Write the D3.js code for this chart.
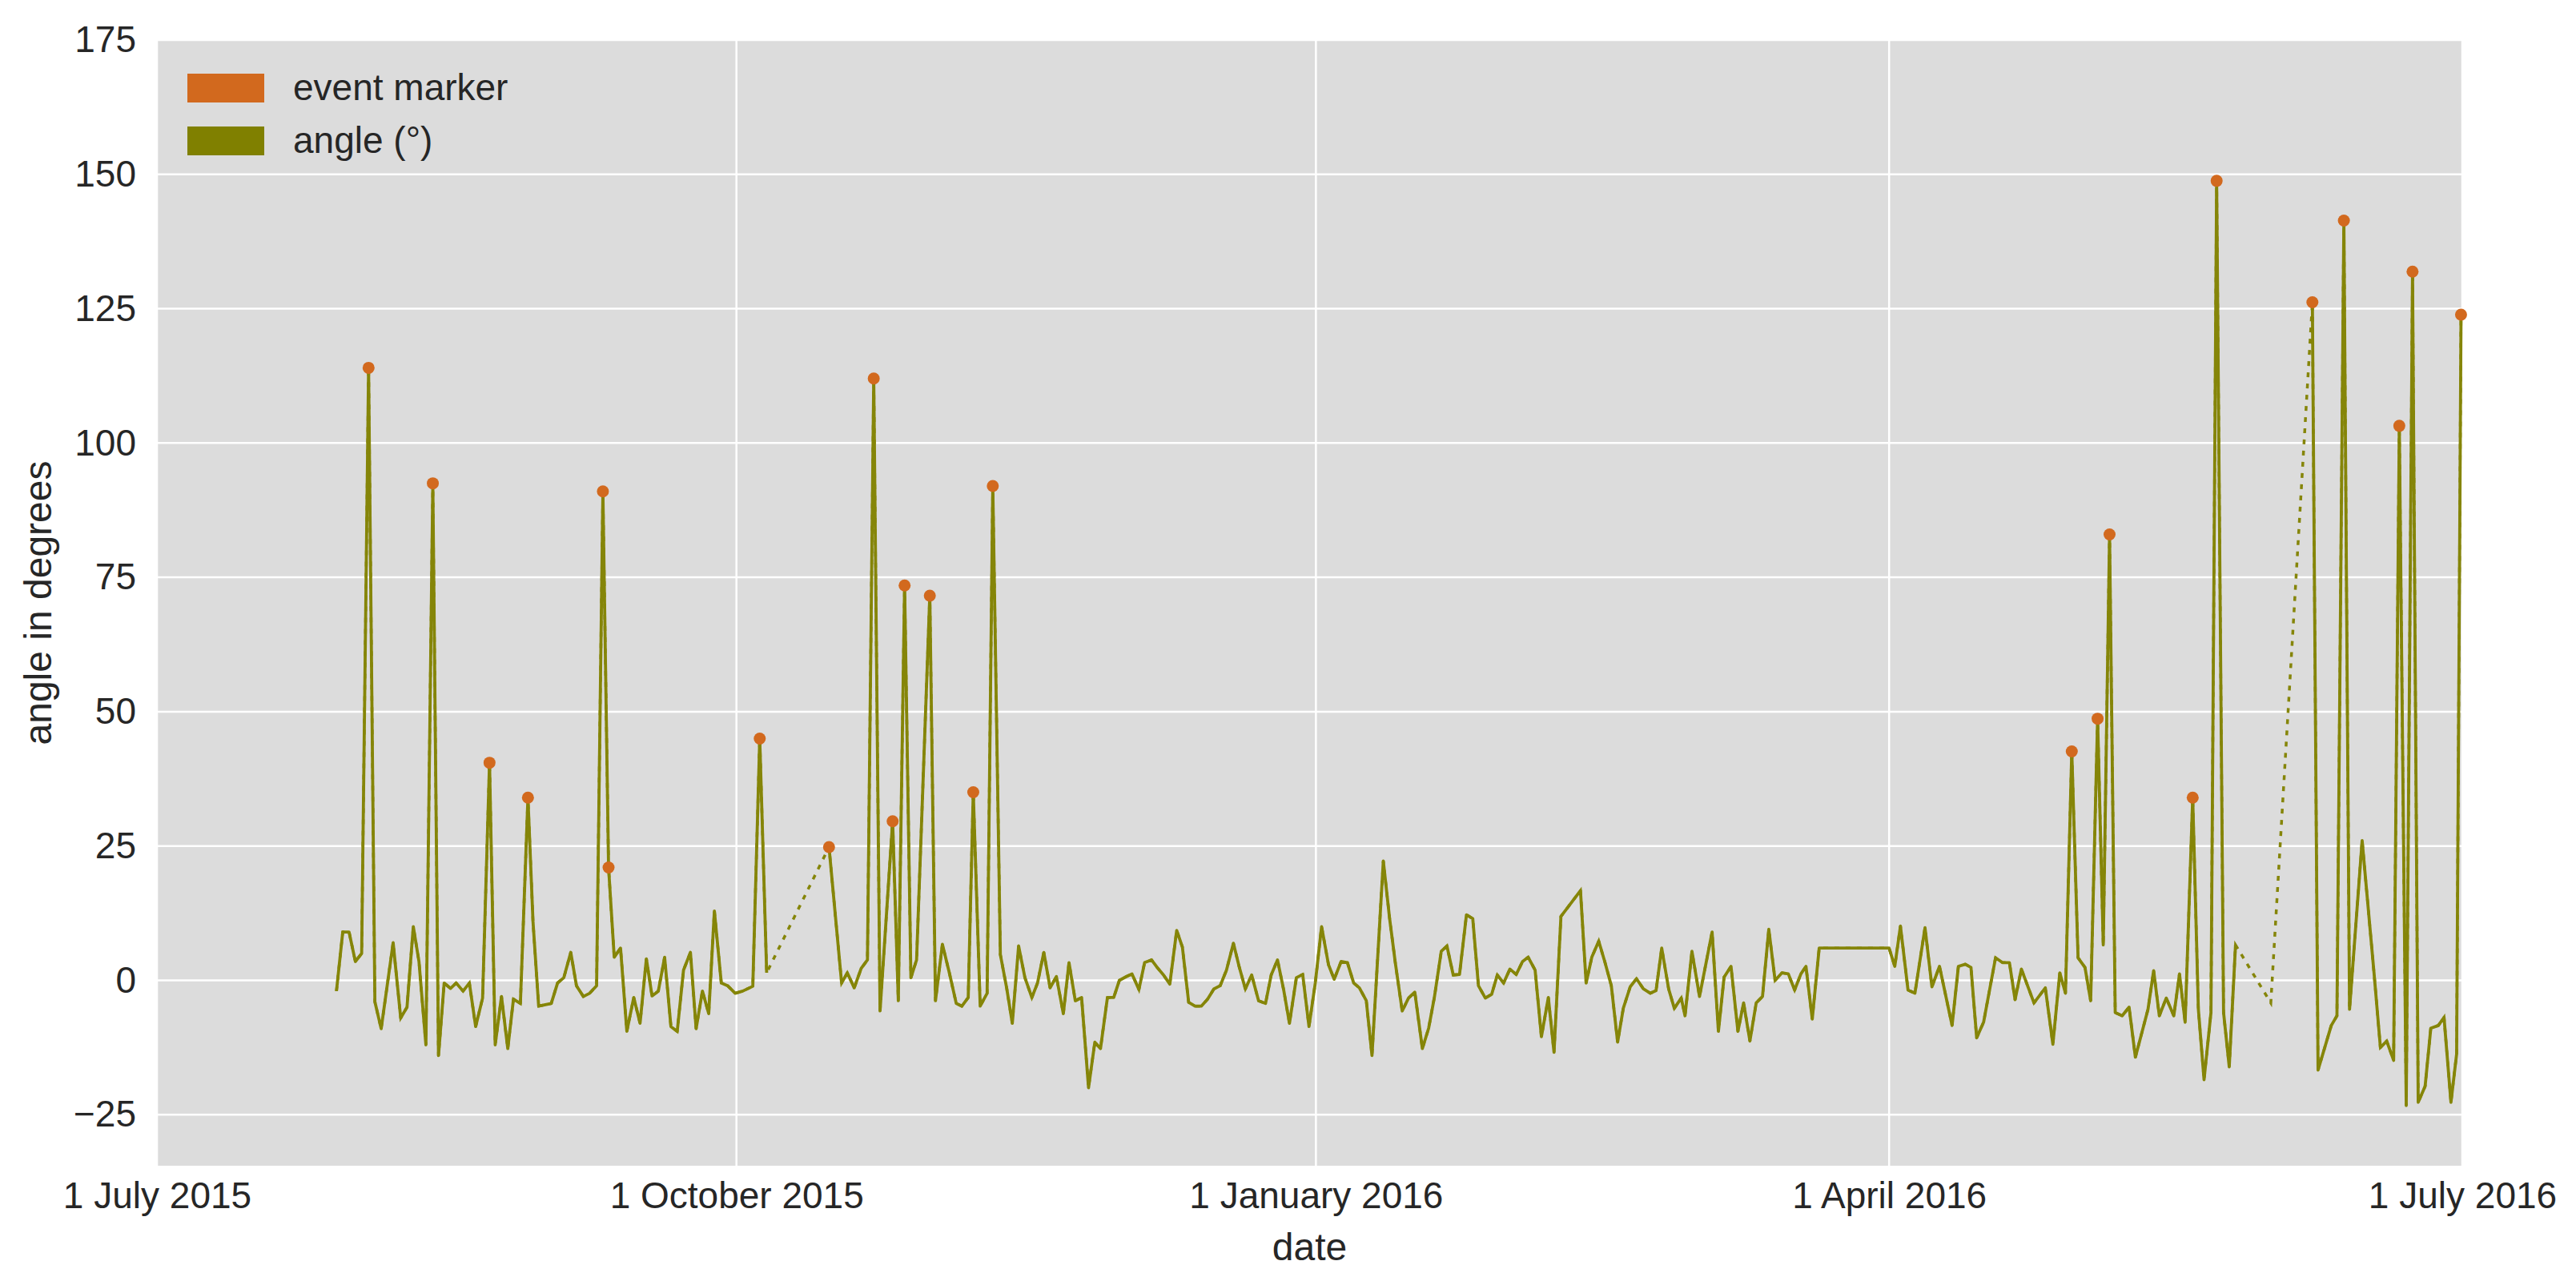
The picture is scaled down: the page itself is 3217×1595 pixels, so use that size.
<!DOCTYPE html>
<html>
<head>
<meta charset="utf-8">
<script src="https://cdn.jsdelivr.net/npm/d3@7"></script>
<style>
  body { margin: 0; background: #fff; }
  text { font-family: "Liberation Sans Narrow", "Liberation Sans", Arial, sans-serif; fill: #262626; }
</style>
</head>
<body>
<svg id="chart"></svg>
<script>
// days after 1 July 2015, and angle values; null = gap (drawn dashed)
const days = [28.5,29.5,30.5,31.5,32.5,33.6,34.6,35.6,37.5,38.7,39.7,40.7,41.6,42.7,43.8,44.7,45.6,46.6,47.5,48.6,49.6,50.6,51.7,52.8,53.7,54.7,55.7,56.6,57.7,58.9,59.7,60.6,62.6,63.6,64.6,65.7,66.6,67.7,68.7,69.8,70.8,71.7,72.6,73.6,74.6,75.7,76.7,77.7,78.6,79.6,80.6,81.6,82.6,83.6,84.7,85.6,86.6,87.6,88.5,89.6,90.6,91.8,93,94.6,95.7,96.8,
  101,
  106.7,108.7,109.6,110.7,111.8,112.8,113.8,114.8,116.8,117.7,118.7,119.7,120.6,122.7,123.6,124.7,125.8,126.9,127.8,128.8,129.6,130.7,131.8,132.7,
  133.9,134.9,135.8,136.8,137.8,138.9,139.8,140.8,141.8,142.8,143.9,144.8,145.8,146.8,147.9,148.9,149.8,150.9,151.9,152.8,153.9,154.8,155.9,156.8,157.9,158.8,159.8,160.8,161.9,162.8,163.8,164.8,165.8,166.8,167.8,168.8,169.8,170.9,171.8,172.8,173.8,174.9,176,176.9,177.9,178.9,179.8,180.9,181.9,182.9,183.9,184.9,186,186.9,188,189,190,190.9,192,192.9,194.7,195.7,196.6,197.7,198.7,199.7,200.9,201.9,202.8,203.9,204.8,205.8,206.8,207.9,208.9,209.8,210.9,211.9,212.8,213.8,214.8,215.8,216.8,217.7,218.8,219.8,220.9,221.8,222.9,226,226.9,227.8,228.9,229.9,230.9,231.9,232.8,233.9,234.9,236,237.1,238,238.9,240,240.9,242,
  242.6,243.7,244.9,246.9,247.9,248.8,249.9,251,251.9,252.9,253.9,254.9,255.9,256.9,258,259,260,261,261.8,262.8,263.9,275,275.9,276.8,278,279.1,280.7,281.8,283,285,286,287.1,288,288.9,290,291.9,293,294.1,295,296,298,299.8,301,302.1,303,304,305,306.1,307,308.1,309,310,310.9,312,313.1,314.1,316.1,317,317.9,319,320.2,321.1,322,323.2,324.1,325,326.1,327,328.1,329,330,
  333,
  335.6,
  339,
  342.2,343.1,345.2,346.1,347.2,348.1,350.1,352,353,354,355.1,356,357.1,358.1,359,360.1,361,362.2,363.1,364.2,365.1,365.8];
const angles = [-2,9,9,3.5,5,114,-4,-9,7,-7,-5,10,3.5,-12,92.5,-14,-0.5,-1.5,-0.5,-2,-0.5,-8.6,-3.3,40.5,-12,-3,-12.7,-3.5,-4.3,34,11,-4.8,-4.3,-0.5,0.5,5.2,-1,-3,-2.4,-1,91,21,4.3,6,-9.5,-3.2,-8,4,-2.9,-2,4.3,-8.6,-9.5,1.9,5.2,-9,-2,-6.2,12.9,-0.5,-1,-2.4,-2,-1.1,45,1.4,
  null,
  24.8,-0.5,1.4,-1.4,2.2,3.8,112,-5.7,29.6,-3.8,73.5,0.5,3.8,71.6,-3.8,6.7,1.4,-4.3,-4.8,-3.2,35,-4.8,-2.4,92,
  4.8,-1.4,-8,6.4,0.5,-3.2,-0.5,5.2,-1.4,0.7,-6.2,3.3,-3.8,-3.2,-20,-11.5,-12.7,-3.2,-3.2,0,0.7,1.2,-1.7,3.3,3.8,2.4,1,-0.7,9.3,6.2,-4.1,-4.8,-4.8,-3.5,-1.6,-1,1.9,6.9,2.6,-1.6,1,-3.8,-4.3,1,3.8,-1.9,-8,0.5,1.1,-8.6,-0.5,10,2.9,0.2,3.5,3.3,-0.5,-1.4,-3.8,-14,22.2,11.5,3.3,-5.7,-3.3,-2.2,-12.7,-8.9,-3.2,5.4,6.4,1,1.1,12.2,11.5,-1,-3.3,-2.6,1,-0.5,2.1,1.1,3.5,4.3,1.9,-10.5,-3.2,-13.4,11.9,16.7,-0.5,4.3,7.3,3.3,-1,-11.5,-5.2,-1.2,0.3,-1.6,-2.4,-1.9,6,-1.6,-5.2,-3.3,
  -6.6,5.4,-3,9,-9.5,0.6,2.6,-9.5,-4.2,-11.3,-4.2,-3,9.5,0,1.4,1.2,-1.8,1.2,2.6,-7.2,6,6,2.6,10.1,-1.8,-2.4,9.8,-1.2,2.6,-8.4,2.6,3,2.4,-10.7,-7.8,4.2,3.3,3.3,-3.6,2.1,-4.2,-1.4,-11.9,1.4,-2.4,42.6,4.2,2.4,-3.8,48.7,6.6,83,-6,-6.6,-5,-14.3,-5.4,1.8,-6.6,-3.3,-6.6,1.2,-7.8,34,-5.4,-18.5,-6,148.8,-6,-16.1,6.6,
  null,
  -4.2,
  null,
  126.2,-16.7,-8.4,-6.6,141.4,-5.4,26,1.2,-12.5,-11.3,-14.9,103.2,-23.3,131.9,-22.7,-19.7,-8.9,-8.4,-6.9,-22.7,-13.7,123.9];
const eventDays = [33.6,43.8,52.8,58.9,70.8,71.7,95.7,106.7,113.8,116.8,118.7,122.7,129.6,132.7,304,308.1,310,323.2,327,342.2,347.2,356,358.1,365.8];
const yTicks = [-25,0,25,50,75,100,125,150,175];
const xTicks = ["2015-07-01","2015-10-01","2016-01-01","2016-04-01","2016-07-01"];
const legendLabels = ["event marker", "angle (\u00b0)"];

const W = 3217, H = 1595;
const m = {left: 196, right: W - 3075, top: 50, bottom: H - 1456};
const start = new Date(2015, 6, 1);
const toDate = d => new Date(start.getTime() + d * 864e5);

const svg = d3.select("#chart").attr("width", W).attr("height", H);

const x = d3.scaleTime().domain([start, new Date(2016, 6, 1)]).range([m.left, W - m.right]);
const y = d3.scaleLinear().domain([-34.5, 175]).range([H - m.bottom, m.top]);

svg.append("rect")
   .attr("x", m.left).attr("y", m.top)
   .attr("width", W - m.left - m.right).attr("height", H - m.top - m.bottom)
   .attr("fill", "#dcdcdc");

// grid
svg.append("g").selectAll("line").data(yTicks).join("line")
   .attr("x1", m.left).attr("x2", W - m.right)
   .attr("y1", d => y(d)).attr("y2", d => y(d))
   .attr("stroke", "#fff").attr("stroke-width", 2.5);
svg.append("g").selectAll("line").data(xTicks).join("line")
   .attr("x1", d => x(new Date(d))).attr("x2", d => x(new Date(d)))
   .attr("y1", m.top).attr("y2", H - m.bottom)
   .attr("stroke", "#fff").attr("stroke-width", 2.5);

// axes
const fmt = d3.timeFormat("%-d %B %Y");
const xAxis = svg.append("g").attr("transform", `translate(0,${H - m.bottom})`)
   .call(d3.axisBottom(x).tickValues(xTicks.map(d => new Date(d))).tickFormat(fmt).tickSize(0).tickPadding(20));
const yAxis = svg.append("g").attr("transform", `translate(${m.left},0)`)
   .call(d3.axisLeft(y).tickValues(yTicks).tickFormat(d => d < 0 ? "\u2212" + (-d) : d).tickSize(0).tickPadding(26));
[xAxis, yAxis].forEach(a => {
    a.select(".domain").remove();
    a.selectAll("text").attr("font-size", 46).attr("fill", "#262626");
});

svg.append("text").attr("x", (m.left + W - m.right) / 2).attr("y", 1574)
   .attr("text-anchor", "middle").attr("font-size", 48).text("date");
svg.append("text").attr("transform", `translate(64,${(m.top + H - m.bottom) / 2}) rotate(-90)`)
   .attr("text-anchor", "middle").attr("font-size", 48).text("angle in degrees");

// series
const pts = days.map((d, i) => ({date: toDate(d), v: angles[i]}));
const olive = "#858508", orange = "#d2691e";

svg.append("path").datum(pts.filter(p => p.v !== null))
   .attr("fill", "none").attr("stroke", olive).attr("stroke-width", 3.5)
   .attr("stroke-dasharray", "6,8")
   .attr("d", d3.line().x(p => x(p.date)).y(p => y(p.v)));

svg.append("path").datum(pts)
   .attr("fill", "none").attr("stroke", olive).attr("stroke-width", 3.8)
   .attr("stroke-linejoin", "round")
   .attr("d", d3.line().defined(p => p.v !== null).x(p => x(p.date)).y(p => y(p.v)));

const evPts = eventDays.map(d => pts[days.indexOf(d)]);
svg.append("g").selectAll("circle").data(evPts).join("circle")
   .attr("cx", p => x(p.date)).attr("cy", p => y(p.v)).attr("r", 7.5)
   .attr("fill", orange);

// legend
const lg = svg.append("g").selectAll("g").data(legendLabels).join("g")
   .attr("transform", (d, i) => `translate(234,${92 + i * 66})`);
lg.append("rect").attr("width", 96).attr("height", 36).attr("fill", (d, i) => i ? "#808000" : orange);
lg.append("text").attr("x", 132).attr("y", 33).attr("font-size", 46).text(d => d);
</script>
</body>
</html>
